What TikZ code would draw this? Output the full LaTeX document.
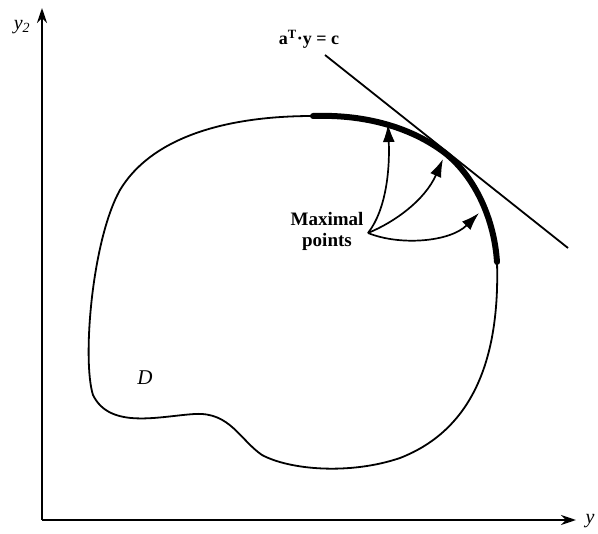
\documentclass[tikz,border=0pt]{standalone}
\usepackage{fontspec}
\setmainfont{Liberation Serif}
\usepackage{tikz}
\usetikzlibrary{arrows.meta}
\tikzset{
  axis/.style={line width=2.2pt, -{Stealth[length=15pt,width=10pt,inset=5pt]}},
  toMax/.style={line width=1.7pt, -{Latex[length=18pt,width=12pt]}},
}
\begin{document}
\begin{tikzpicture}[x=1pt,y=-1pt]
      \useasboundingbox (0,0) rectangle (598,534);
      % ejes
      \coordinate (o) at (42,520);
      \coordinate (ytip) at (42,8);
      \coordinate (xtip) at (576,520);
      \draw[axis] (o) -- (ytip);
      \draw[axis] (o) -- (xtip);
      \node[font=\fontsize{20}{22}\selectfont\itshape] (ylab) at (22,27) {y\textsubscript{2}};
      \node[font=\fontsize{20}{22}\selectfont\itshape] (xlab) at (590,521) {y};
      % region D
      \draw[line width=1.8pt] (497,262) .. controls (500,360) and (472,430) .. (400,458)
        .. controls (350,475) and (290,470) .. (262,455)
        .. controls (240,440) and (230,412) .. (195,414)
        .. controls (160,416) and (110,430) .. (93,395)
        .. controls (82,360) and (92,240) .. (120,190)
        .. controls (150,140) and (220,116) .. (313,116);
      \draw[line width=6pt, line cap=round] (313,116) .. controls (370,114) and (415,130) .. (445,153)
        .. controls (472,174) and (494,215) .. (497,262);
      \node[font=\fontsize{21}{22}\selectfont\itshape] (D) at (145,378) {D};
      % hiperplano
      \coordinate (tA) at (325,55);
      \coordinate (tB) at (568,248);
      \draw[line width=1.8pt] (tA) -- (tB);
      \node[font=\fontsize{18}{20}\selectfont\bfseries] (hyp) at (309,39) {a\textsuperscript{T}·y = c};
      % puntos maximales
      \node[font=\fontsize{19}{21}\selectfont\bfseries, align=center, inner sep=0pt] (maxpt) at (327,231)
        {Maximal\\ points};
      \coordinate (p1) at (388,124);
      \coordinate (p2) at (443,159);
      \coordinate (p3) at (479,213);
      \draw[toMax] (368,233) .. controls (386,210) and (390,170) .. (p1);
      \draw[toMax] (368,233) .. controls (395,222) and (425,200) .. (p2);
      \draw[toMax] (368,233) .. controls (400,246) and (450,242) .. (p3);
    \end{tikzpicture}
\end{document}
